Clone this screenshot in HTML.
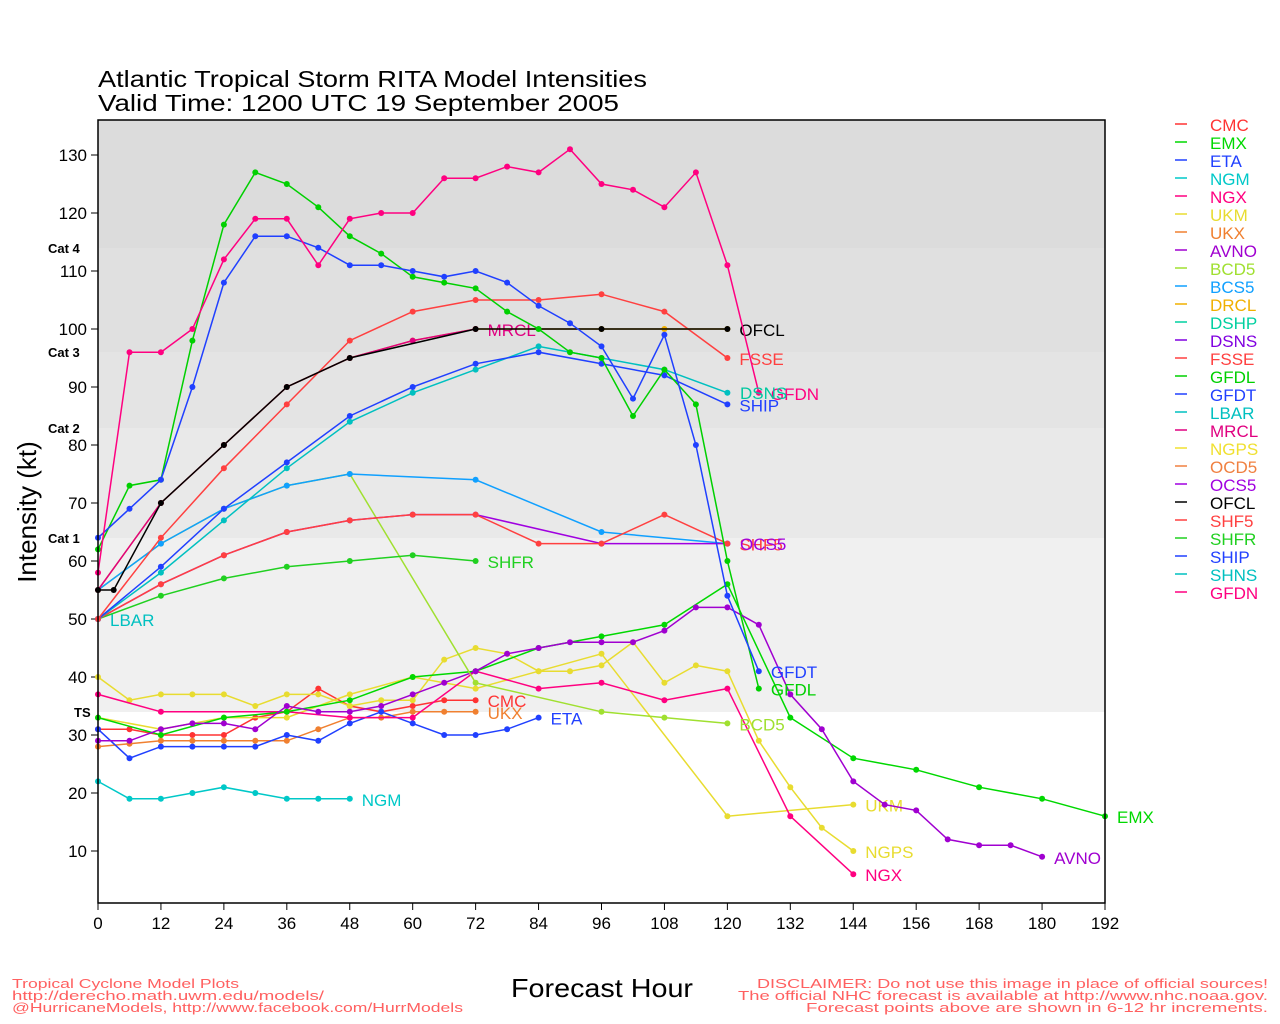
<!DOCTYPE html>
<html><head><meta charset="utf-8"><style>
html,body{margin:0;padding:0;background:#fff;width:1280px;height:1024px;overflow:hidden}
svg{display:block;font-family:"Liberation Sans",sans-serif}
</style></head><body>
<svg id="s" width="1280" height="1024" xmlns="http://www.w3.org/2000/svg">
<rect x="98" y="120" width="1007" height="128" fill="#dcdcdc"/>
<rect x="98" y="248" width="1007" height="104" fill="#e0e0e0"/>
<rect x="98" y="352" width="1007" height="76" fill="#e4e4e4"/>
<rect x="98" y="428" width="1007" height="110" fill="#e9e9e9"/>
<rect x="98" y="538" width="1007" height="174" fill="#f0f0f0"/>
<text x="98" y="87" font-size="23" fill="#000" textLength="549" lengthAdjust="spacingAndGlyphs">Atlantic Tropical Storm RITA Model Intensities</text>
<text x="98" y="111" font-size="23" fill="#000" textLength="521" lengthAdjust="spacingAndGlyphs">Valid Time: 1200 UTC 19 September 2005</text>
<text transform="translate(36,512) rotate(-90)" text-anchor="middle" font-size="26">Intensity (kt)</text>
<text x="511" y="997" font-size="26" textLength="182" lengthAdjust="spacingAndGlyphs">Forecast Hour</text>
<g font-size="13" font-weight="bold">
<text x="48" y="253">Cat 4</text><text x="48" y="357">Cat 3</text><text x="48" y="433">Cat 2</text><text x="48" y="543">Cat 1</text><text x="74" y="717">TS</text></g>
<g font-size="13" fill="#ff6060">
<text x="12" y="988" textLength="227" lengthAdjust="spacingAndGlyphs">Tropical Cyclone Model Plots</text>
<text x="12" y="1000" textLength="312" lengthAdjust="spacingAndGlyphs">http://derecho.math.uwm.edu/models/</text>
<text x="12" y="1012" textLength="451" lengthAdjust="spacingAndGlyphs">@HurricaneModels, http://www.facebook.com/HurrModels</text>
<text x="757" y="988" textLength="511" lengthAdjust="spacingAndGlyphs">DISCLAIMER: Do not use this image in place of official sources!</text>
<text x="738" y="1000" textLength="530" lengthAdjust="spacingAndGlyphs">The official NHC forecast is available at http://www.nhc.noaa.gov.</text>
<text x="806" y="1012" textLength="462" lengthAdjust="spacingAndGlyphs">Forecast points above are shown in 6-12 hr increments.</text></g>
<g id="g"></g>
<rect x="98" y="120" width="1007" height="783" fill="none" stroke="#000" stroke-width="1.5"/>
</svg>
<script>
var g=document.getElementById('g'),h='';
function X(t){return 98+t*1007/192}function Y(v){return 155+(130-v)*5.8}
for(var t=0;t<=192;t+=12){h+='<line x1="'+X(t)+'" y1="903" x2="'+X(t)+'" y2="910" stroke="#000"/><text x="'+X(t)+'" y="929" font-size="17" text-anchor="middle">'+t+'</text>';}
for(var v=10;v<=130;v+=10){h+='<line x1="91" y1="'+Y(v)+'" x2="98" y2="'+Y(v)+'" stroke="#000"/><text x="87" y="'+(Y(v)+6)+'" font-size="17" text-anchor="end">'+v+'</text>';}
var S=[
['CMC','#ff3333',[0,31,6,31,12,30,18,30,24,30,30,33,36,34,42,38,48,35,54,34,60,35,66,36,72,36],1],
['UKX','#f08030',[0,28,6,28.5,12,29,18,29,24,29,30,29,36,29,42,31,48,33,54,33,60,34,66,34,72,34],1],
['ETA','#2040ff',[0,31,6,26,12,28,18,28,24,28,30,28,36,30,42,29,48,32,54,34,60,32,66,30,72,30,78,31,84,33],1],
['NGM','#00c8c8',[0,22,6,19,12,19,18,20,24,21,30,20,36,19,42,19,48,19],1],
['NGPS','#e8dc30',[0,40,6,36,12,37,18,37,24,37,30,35,36,37,42,37,48,35,54,36,60,36,66,43,72,45,78,44,84,41,90,41,96,42,102,46,108,39,114,42,120,41,126,29,132,21,138,14,144,10],1],
['UKM','#e8dc30',[0,33,12,31,24,33,36,33,48,37,60,40,72,38,84,41,96,44,120,16,144,18],1],
['NGX','#ff0080',[0,37,12,34,36,34,48,33,60,33,72,41,84,38,96,39,108,36,120,38,132,16,144,6],1],
['EMX','#00d800',[0,33,12,30,24,33,36,34,48,36,60,40,72,41,84,45,96,47,108,49,120,56,132,33,144,26,156,24,168,21,180,19,192,16],1],
['AVNO','#a000d0',[0,29,6,29,12,31,18,32,24,32,30,31,36,35,42,34,48,34,54,35,60,37,66,39,72,41,78,44,84,45,90,46,96,46,102,46,108,48,114,52,120,52,126,49,132,37,138,31,144,22,150,18,156,17,162,12,168,11,174,11,180,9],1],
['BCD5','#a0e030',[0,55,12,63,24,69,36,73,48,75,72,39,96,34,108,33,120,32],1],
['BCS5','#10a0ff',[0,55,12,63,24,69,36,73,48,75,72,74,96,65,120,63],0],
['SHFR','#20d020',[0,50,12,54,24,57,36,59,48,60,60,61,72,60],1],
['OCS5','#a000e0',[0,50,12,56,24,61,36,65,48,67,60,68,72,68,96,63,120,63],0],
['SHF5','#ff4040',[0,50,12,56,24,61,36,65,48,67,60,68,72,68,84,63,96,63,108,68,120,63],1],
['SHNS','#00c0c0',[0,50,12,58,24,67,36,76,48,84,60,89,72,93,84,97,96,95,108,93,120,89],0],
['SHIP','#2040ff',[0,50,12,59,24,69,36,77,48,85,60,90,72,94,84,96,96,94,108,92,120,87],1],
['FSSE','#ff4040',[0,50,12,64,24,76,36,87,48,98,60,103,72,105,84,105,96,106,108,103,120,95],1],
['DRCL','#f0b000',[0,55,12,70,24,80,36,90,48,95,60,98,72,100,96,100,108,100,120,100],0],
['MRCL','#e00080',[0,55,12,70,24,80,36,90,48,95,60,98,72,100],1],
['OFCL','#000000',[0,55,3,55,12,70,24,80,36,90,48,95,72,100,96,100,120,100],1],
['GFDL','#00d000',[0,62,6,73,12,74,18,98,24,118,30,127,36,125,42,121,48,116,54,113,60,109,66,108,72,107,78,103,84,100,90,96,96,95,102,85,108,93,114,87,120,60,126,38],1],
['GFDT','#2040ff',[0,64,6,69,12,74,18,90,24,108,30,116,36,116,42,114,48,111,54,111,60,110,66,109,72,110,78,108,84,104,90,101,96,97,102,88,108,99,114,80,120,54,126,41],1],
['GFDN','#ff0080',[0,58,6,96,12,96,18,100,24,112,30,119,36,119,42,111,48,119,54,120,60,120,66,126,72,126,78,128,84,127,90,131,96,125,102,124,108,121,114,127,120,111,126,89],1]];
S.forEach(function(s){var p=s[2],pts=[];for(var i=0;i<p.length;i+=2)pts.push(X(p[i]).toFixed(1)+','+Y(p[i+1]).toFixed(1));
h+='<polyline points="'+pts.join(' ')+'" fill="none" stroke="'+s[1]+'" stroke-width="1.5"/>';
pts.forEach(function(q){var c=q.split(',');h+='<circle cx="'+c[0]+'" cy="'+c[1]+'" r="3" fill="'+s[1]+'"/>';});
if(s[3]){var n=p.length;h+='<text x="'+(X(p[n-2])+12)+'" y="'+(Y(p[n-1])+7)+'" font-size="17" fill="'+s[1]+'">'+s[0]+'</text>';}});
h+='<text x="110" y="626" font-size="17" fill="#00c0c0">LBAR</text>';
h+='<text x="740" y="399" font-size="17" fill="#00c8a0">DSNS</text>';
h+='<text x="740" y="550" font-size="17" fill="#a000e0">OCS5</text>';
var L=['CMC','#ff3333','EMX','#00d800','ETA','#2040ff','NGM','#00c8c8','NGX','#ff0080','UKM','#e8dc30','UKX','#f08030','AVNO','#a000d0','BCD5','#a0e030','BCS5','#10a0ff','DRCL','#f0b000','DSHP','#00d0a0','DSNS','#8000e0','FSSE','#ff4040','GFDL','#00d000','GFDT','#2040ff','LBAR','#00c0c0','MRCL','#e00080','NGPS','#f0e030','OCD5','#f08040','OCS5','#a000e0','OFCL','#000000','SHF5','#ff4040','SHFR','#20d020','SHIP','#2040ff','SHNS','#00c0c0','GFDN','#ff0080'];
for(var i=0;i<L.length;i+=2){var y=124+i/2*18;h+='<line x1="1175" y1="'+y+'" x2="1187" y2="'+y+'" stroke="'+L[i+1]+'" stroke-width="1.5"/><text x="1210" y="'+(y+7)+'" font-size="17" fill="'+L[i+1]+'">'+L[i]+'</text>';}
g.innerHTML=h;
</script>
</body></html>
